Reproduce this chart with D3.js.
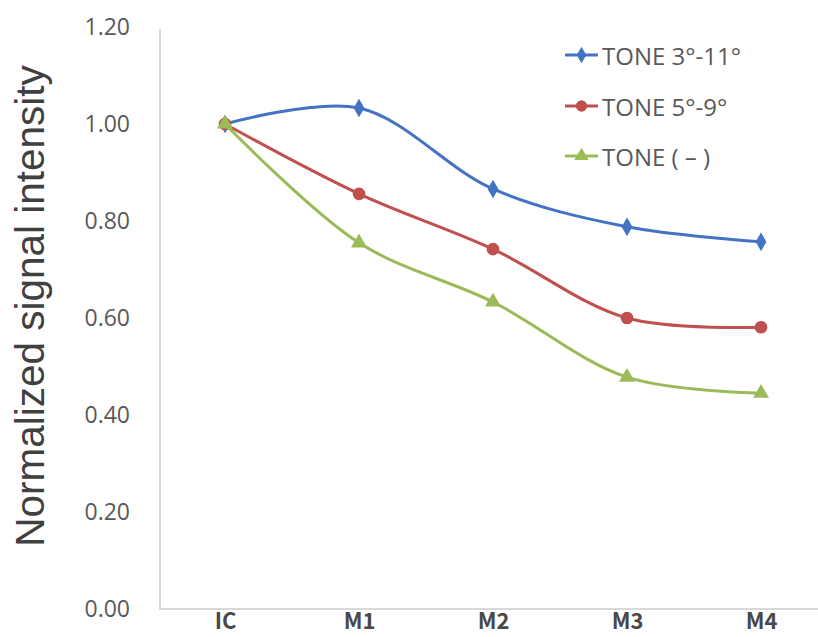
<!DOCTYPE html>
<html>
<head>
<meta charset="utf-8">
<script src="https://cdn.jsdelivr.net/npm/d3@7/dist/d3.min.js"></script>
<style>
  html, body { margin: 0; padding: 0; background: #fff; }
  svg { display: block; }
</style>
</head>
<body>
<svg id="chart" width="818" height="637"></svg>
<script>
// Measurement points along the x axis
const categories = ["IC", "M1", "M2", "M3", "M4"];

// Normalized signal intensity for each condition
const tone3to11 = [1.00, 1.033, 0.866, 0.788, 0.757];
const tone5to9  = [1.00, 0.856, 0.742, 0.600, 0.581];
const toneNone  = [1.00, 0.755, 0.633, 0.478, 0.445];

const seriesNames = ["TONE 3°-11°", "TONE 5°-9°", "TONE ( – )"];
const yTicks = [0, 0.2, 0.4, 0.6, 0.8, 1.0, 1.2];

const series = [
  { name: seriesNames[0], values: tone3to11, color: "#4472C4", marker: d3.symbolDiamond, size: 100 },
  { name: seriesNames[1], values: tone5to9,  color: "#C0504D", marker: d3.symbolCircle,  size: 125 },
  { name: seriesNames[2], values: toneNone,  color: "#9BBB59", marker: d3.symbolTriangle, size: 110 }
];

const svg = d3.select("#chart");

const x = d3.scalePoint().domain(categories).range([158, 828]).padding(0.5);
const y = d3.scaleLinear().domain([0, 1.2]).range([609, 27]);

// Axis lines
svg.append("line")
  .attr("x1", 160).attr("x2", 160)
  .attr("y1", y(1.2) + 2).attr("y2", y(0))
  .attr("stroke", "#d9d9d9").attr("stroke-width", 2);
svg.append("line")
  .attr("x1", 159).attr("x2", 818)
  .attr("y1", y(0)).attr("y2", y(0))
  .attr("stroke", "#d9d9d9").attr("stroke-width", 2);

// Y tick labels
const yAxis = d3.axisLeft(y).tickValues(yTicks).tickFormat(d3.format(".2f")).tickSize(0).tickPadding(0);
const gy = svg.append("g").attr("transform", "translate(130,0)").call(yAxis);
gy.select(".domain").remove();
gy.selectAll("text")
  .attr("font-family", "'Open Sans', sans-serif")
  .attr("font-size", 23)
  .attr("fill", "#595959");

// X tick labels
const xAxis = d3.axisBottom(x).tickSize(0).tickPadding(0);
const gx = svg.append("g").attr("transform", "translate(0,629)").call(xAxis);
gx.select(".domain").remove();
gx.selectAll("text")
  .attr("font-family", "'Noto Sans CJK JP', sans-serif")
  .attr("font-weight", "bold")
  .attr("font-size", 22)
  .attr("fill", "#484848")
  .attr("y", 0)
  .attr("dy", 0);

// Y axis title
svg.append("text")
  .attr("transform", "translate(30,306) rotate(-90)")
  .attr("text-anchor", "middle")
  .attr("dominant-baseline", "central")
  .attr("font-family", "'Liberation Sans', Arial, sans-serif")
  .attr("font-size", 40.5)
  .attr("fill", "#404040")
  .text("Normalized signal intensity");

// Smoothed lines
const line = d3.line()
  .x((d, i) => x(categories[i]))
  .y(d => y(d))
  .curve(d3.curveCatmullRom.alpha(0.5));

series.forEach(s => {
  svg.append("path")
    .datum(s.values)
    .attr("d", line)
    .attr("fill", "none")
    .attr("stroke", s.color)
    .attr("stroke-width", 3);
  svg.selectAll(null)
    .data(s.values)
    .enter()
    .append("path")
    .attr("d", d3.symbol().type(s.marker).size(s.size))
    .attr("transform", (d, i) => `translate(${x(categories[i])},${y(d)})`)
    .attr("fill", s.color);
});

// Legend
const legendY = [55, 106, 156];
series.forEach((s, i) => {
  const g = svg.append("g").attr("transform", `translate(565,${legendY[i]})`);
  g.append("line").attr("x1", 0).attr("x2", 33).attr("y1", 0).attr("y2", 0)
    .attr("stroke", s.color).attr("stroke-width", 3);
  g.append("path")
    .attr("d", d3.symbol().type(s.marker).size(s.size * 0.8))
    .attr("transform", "translate(16.5,0)")
    .attr("fill", s.color);
  g.append("text")
    .attr("x", 37).attr("y", 0)
    .attr("dominant-baseline", "central")
    .attr("font-family", "'Open Sans', sans-serif")
    .attr("font-size", 24)
    .attr("fill", "#595959")
    .text(s.name);
});
</script>
</body>
</html>
